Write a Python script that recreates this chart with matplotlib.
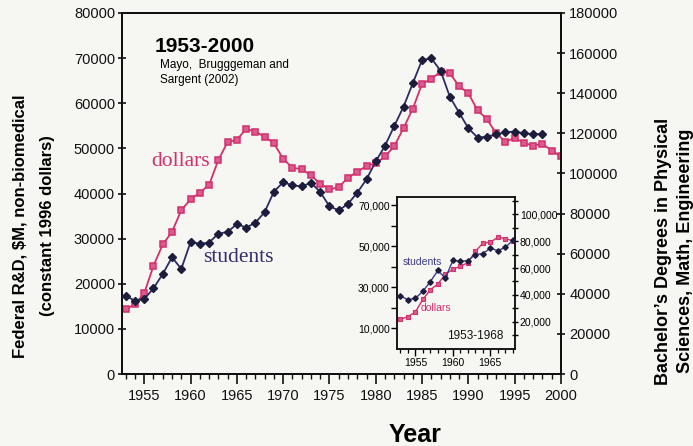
import matplotlib
matplotlib.use('Agg')
import matplotlib.pyplot as plt
from matplotlib.ticker import MultipleLocator, FixedLocator, FixedFormatter

plt.rcParams['font.family'] = ['Liberation Sans', 'DejaVu Sans']

# ---------------- data ----------------
years_dollars = list(range(1953, 2001))
dollars = [14300, 15500, 17900, 24000, 28700, 31500, 36300, 38700, 40200, 41900,
           47400, 51400, 51900, 54300, 53700, 52600, 51100, 47700, 45700, 45400,
           44000, 42200, 40900, 41400, 43500, 44800, 46100, 46700, 48200, 50500,
           54500, 58800, 64300, 65400, 67000, 66600, 63800, 62200, 58400, 56500,
           53300, 51500, 52300, 51200, 50600, 51000, 49500, 48200]

years_students = list(range(1953, 1999))
students = [39000, 36500, 37400, 42700, 49900, 58200, 52400, 65700, 65000, 65500,
            70000, 70800, 74800, 73000, 75400, 80700, 90900, 95600, 94100, 93500,
            95400, 90800, 83600, 81600, 84800, 90400, 97100, 106000, 113800, 123700,
            133300, 145000, 156600, 157400, 151200, 138200, 130300, 122500, 117900, 118300,
            119500, 120500, 120900, 120000, 119600, 119700]

inset_first, inset_last = 1953, 1968

left_ticks = list(range(0, 80001, 10000))
right_ticks = list(range(0, 180001, 20000))
x_major = list(range(1955, 2001, 5))

inset_left_ticks = list(range(10000, 70001, 10000))
inset_left_labels = ['10,000', '', '30,000', '', '50,000', '', '70,000']
inset_right_ticks = list(range(10000, 110001, 10000))
inset_right_labels = ['', '20,000', '', '40,000', '', '60,000', '', '80,000', '', '100,000', '']
inset_x_major = [1955, 1960, 1965]

PINK = '#d2306c'
PINK_FACE = '#dc5a8c'
NAVY = '#2c2c66'
NAVY_M = '#1c1c3c'
BG = '#f6f6f2'

W, H = 693, 446
fig = plt.figure(figsize=(W / 100, H / 100), dpi=100, facecolor=BG)

def fx(px):
    return px / W

def fy(py):
    return 1 - py / H

# ---------------- main axes ----------------
ax = fig.add_axes([fx(122), fy(374), fx(561) - fx(122), fy(13) - fy(374)], facecolor=BG)
ax2 = ax.twinx()

ax.plot(years_dollars, dollars, color=PINK, lw=1.3, marker='s', ms=4.6,
        mfc=PINK_FACE, mec=PINK, mew=1.1, zorder=3)
ax2.plot(years_students, students, color=NAVY, lw=1.3, marker='D', ms=4.0,
         mfc=NAVY_M, mec=NAVY_M, zorder=3)

ax.set_xlim(1952.6, 2000)
ax.set_ylim(0, 80000)
ax2.set_ylim(0, 180000)

ax.set_yticks(left_ticks)
ax.set_yticklabels([str(t) for t in left_ticks])
ax2.set_yticks(right_ticks)
ax2.set_yticklabels([str(t) for t in right_ticks])
ax.set_xticks(x_major)
ax.set_xticklabels([str(t) for t in x_major])
ax.xaxis.set_minor_locator(MultipleLocator(1))

for a in (ax, ax2):
    for s in a.spines.values():
        s.set_linewidth(1.4)
        s.set_color('#111111')

ax.tick_params(axis='y', direction='inout', length=6, width=1.2, labelsize=10.5, pad=2, colors='#111111')
ax2.tick_params(axis='y', direction='inout', length=6, width=1.2, labelsize=10.5, pad=3, colors='#111111')
ax.tick_params(axis='x', which='major', direction='out', length=7, width=1.2, labelsize=10.5, pad=4, colors='#111111')
ax.tick_params(axis='x', which='minor', direction='out', length=3.5, width=1.0, colors='#111111')

# main annotations
fig.text(fx(155), fy(47), '1953-2000', fontsize=15, fontweight='bold', ha='left', va='center')
fig.text(fx(160), fy(65), 'Mayo,  Brugggeman and', fontsize=8.5, ha='left', va='center')
fig.text(fx(160), fy(80), 'Sargent (2002)', fontsize=8.5, ha='left', va='center')
fig.text(fx(151), fy(162), 'dollars', fontsize=15.5, ha='left', va='center', color=PINK,
         family=['Liberation Serif', 'DejaVu Serif'])
fig.text(fx(203), fy(258), 'students', fontsize=15.5, ha='left', va='center', color='#3a2d6e',
         family=['Liberation Serif', 'DejaVu Serif'])

# axis labels
fig.text(fx(20), fy(226), 'Federal R&D, \\$M, non-biomedical', rotation=90, fontsize=12,
         fontweight='bold', ha='center', va='center')
fig.text(fx(48), fy(226), '(constant 1996 dollars)', rotation=90, fontsize=12,
         fontweight='bold', ha='center', va='center')
fig.text(fx(664), fy(385), 'Bachelor\u2019s Degrees in Physical', rotation=90, fontsize=13,
         fontweight='bold', ha='center', va='bottom')
fig.text(fx(685), fy(373), 'Sciences, Math, Engineering', rotation=90, fontsize=13,
         fontweight='bold', ha='center', va='bottom')
fig.text(fx(415), fy(441.5), 'Year', fontsize=18, fontweight='bold', ha='center', va='baseline')

# ---------------- inset ----------------
ins = fig.add_axes([fx(396.7), fy(348.5), fx(515) - fx(396.7), fy(197) - fy(348.5)], facecolor=BG)
ins2 = ins.twinx()

i0 = years_dollars.index(inset_first)
i1 = years_dollars.index(inset_last) + 1
j0 = years_students.index(inset_first)
j1 = years_students.index(inset_last) + 1

ins.plot(years_dollars[i0:i1], dollars[i0:i1], color=PINK, lw=1.0, marker='s', ms=3.0,
         mfc=PINK_FACE, mec=PINK, mew=0.8, zorder=3)
ins2.plot(years_students[j0:j1], students[j0:j1], color='#3a3a8a', lw=1.0, marker='D', ms=2.8,
          mfc=NAVY_M, mec=NAVY_M, zorder=3)

ins.set_xlim(1952.5, 1968.3)
ins.set_ylim(0, 74000)
ins2.set_ylim(0, 113000)

ins.yaxis.set_major_locator(FixedLocator(inset_left_ticks))
ins.yaxis.set_major_formatter(FixedFormatter(inset_left_labels))
ins2.yaxis.set_major_locator(FixedLocator(inset_right_ticks))
ins2.yaxis.set_major_formatter(FixedFormatter(inset_right_labels))
ins.set_xticks(inset_x_major)
ins.set_xticklabels([str(t) for t in inset_x_major])
ins.xaxis.set_minor_locator(MultipleLocator(1))

for a in (ins, ins2):
    for s in a.spines.values():
        s.set_linewidth(1.1)
        s.set_color('#111111')

ins.tick_params(axis='y', direction='out', length=4, width=1.0, labelsize=7.5, pad=1)
ins2.tick_params(axis='y', direction='inout', length=5, width=1.0, labelsize=7.5, pad=1)
ins.tick_params(axis='x', which='major', direction='out', length=5, width=1.0, labelsize=7.5, pad=2)
ins.tick_params(axis='x', which='minor', direction='out', length=3, width=0.9)

fig.text(fx(403), fy(262), 'students', fontsize=7.5, ha='left', va='center', color='#3a3a8a')
fig.text(fx(421), fy(308), 'dollars', fontsize=7.5, ha='left', va='center', color=PINK)
fig.text(fx(447), fy(336), '1953-1968', fontsize=8.5, ha='left', va='center', color='#111111')

fig.savefig('out.png', dpi=100, facecolor=BG)
